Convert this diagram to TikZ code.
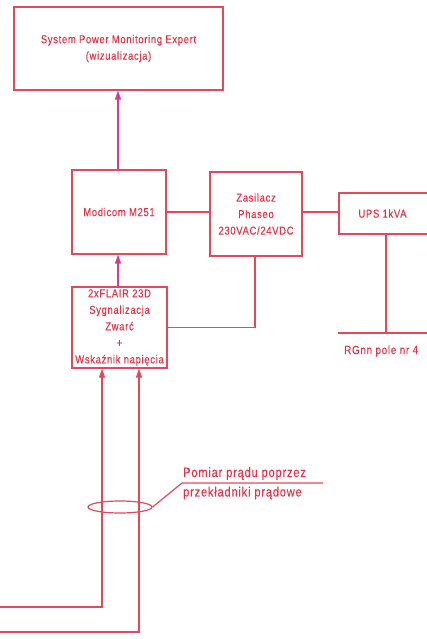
\documentclass[tikz,border=0pt]{standalone}
\usepackage{fontspec}
\setmainfont[LetterSpace=6, FakeStretch=0.82, FakeBold=0.3]{Liberation Sans}
\usetikzlibrary{arrows.meta,shapes.geometric}
\definecolor{boxred}{RGB}{228,72,92}
\definecolor{txtred}{RGB}{226,52,72}
\definecolor{arrmag}{RGB}{212,58,150}
\tikzset{
  blk/.style={draw=boxred, line width=1.2pt, rectangle, inner sep=0pt, align=center,
              text=txtred, font=\fontsize{11.5}{16.5}\selectfont},
  wire/.style={draw=boxred, line width=1.2pt},
  sig/.style={draw=arrmag, line width=1.2pt, -{Triangle[length=9pt,width=6pt]}},
  inp/.style={draw=boxred, line width=1.2pt, -{Triangle[length=9pt,width=6pt]}},
  lbl/.style={text=txtred, inner sep=0pt, font=\fontsize{12}{16}\selectfont},
  ann/.style={text=txtred, inner sep=0pt, font=\fontsize{13.5}{14}\selectfont}
}
\begin{document}
\begin{tikzpicture}[x=1pt,y=-1pt]
\useasboundingbox (0,0) rectangle (426,639);
\node[blk, minimum width=209pt, minimum height=83pt] (spme) at (118.5,48.5)
  {System Power Monitoring Expert\\(wizualizacja)};
\node[blk, minimum width=94pt, minimum height=84pt] (mod) at (119,212) {Modicom M251};
\node[blk, minimum width=92pt, minimum height=84pt] (zas) at (256,214)
  {Zasilacz\\Phaseo\\230VAC/24VDC};
\node[blk, minimum width=94pt, minimum height=41pt] (ups) at (386,213.5) {UPS 1kVA\hspace*{7pt}};
\node[blk, minimum width=95pt, minimum height=81pt] (flair) at (119.5,327.5)
  {2xFLAIR 23D\\Sygnalizacja\\Zwarć\\+\\Wskaźnik napięcia};
% connections
\draw[sig] (mod.north -| 118,0) -- (spme.south -| 118,0);
\draw[sig] (flair.north -| 118,0) -- (mod.south -| 118,0);
\draw[wire] (mod.east) -- (mod.east -| zas.west);
\draw[wire] (zas.east |- 0,212) -- (ups.west |- 0,212);
\draw[wire] (zas.south -| 255,0) |- (flair.east);
% UPS to RG
\coordinate (rgT) at (386,333);
\coordinate (rgL) at (338,333);
\coordinate (rgR) at (430,333);
\draw[wire] (ups.south) -- (rgT);
\draw[wire] (rgL) -- (rgR);
\node[lbl, anchor=west] (rg) at (344,351) {RGnn pole nr 4};
% current inputs
\coordinate (i1) at (102,607);
\coordinate (i2) at (139,632);
\coordinate (l1) at (0,607);
\coordinate (l2) at (0,632);
\draw[inp] (l1) -- (i1) -- (i1 |- flair.south);
\draw[inp] (l2) -- (i2) -- (i2 |- flair.south);
% CT ellipse and leader
\node[draw=boxred, line width=1.2pt, ellipse, inner sep=0pt, minimum width=64pt, minimum height=12pt] (ct) at (120,507) {};
\coordinate (ld1) at (182,483);
\coordinate (ld2) at (323,483);
\draw[wire] (ct.east) -- (ld1) -- (ld2);
\node[ann, anchor=south west] (a1) at (183,480) {Pomiar prądu poprzez};
\node[ann, anchor=north west] (a2) at (183,486.5) {przekładniki prądowe};
\end{tikzpicture}
\end{document}
